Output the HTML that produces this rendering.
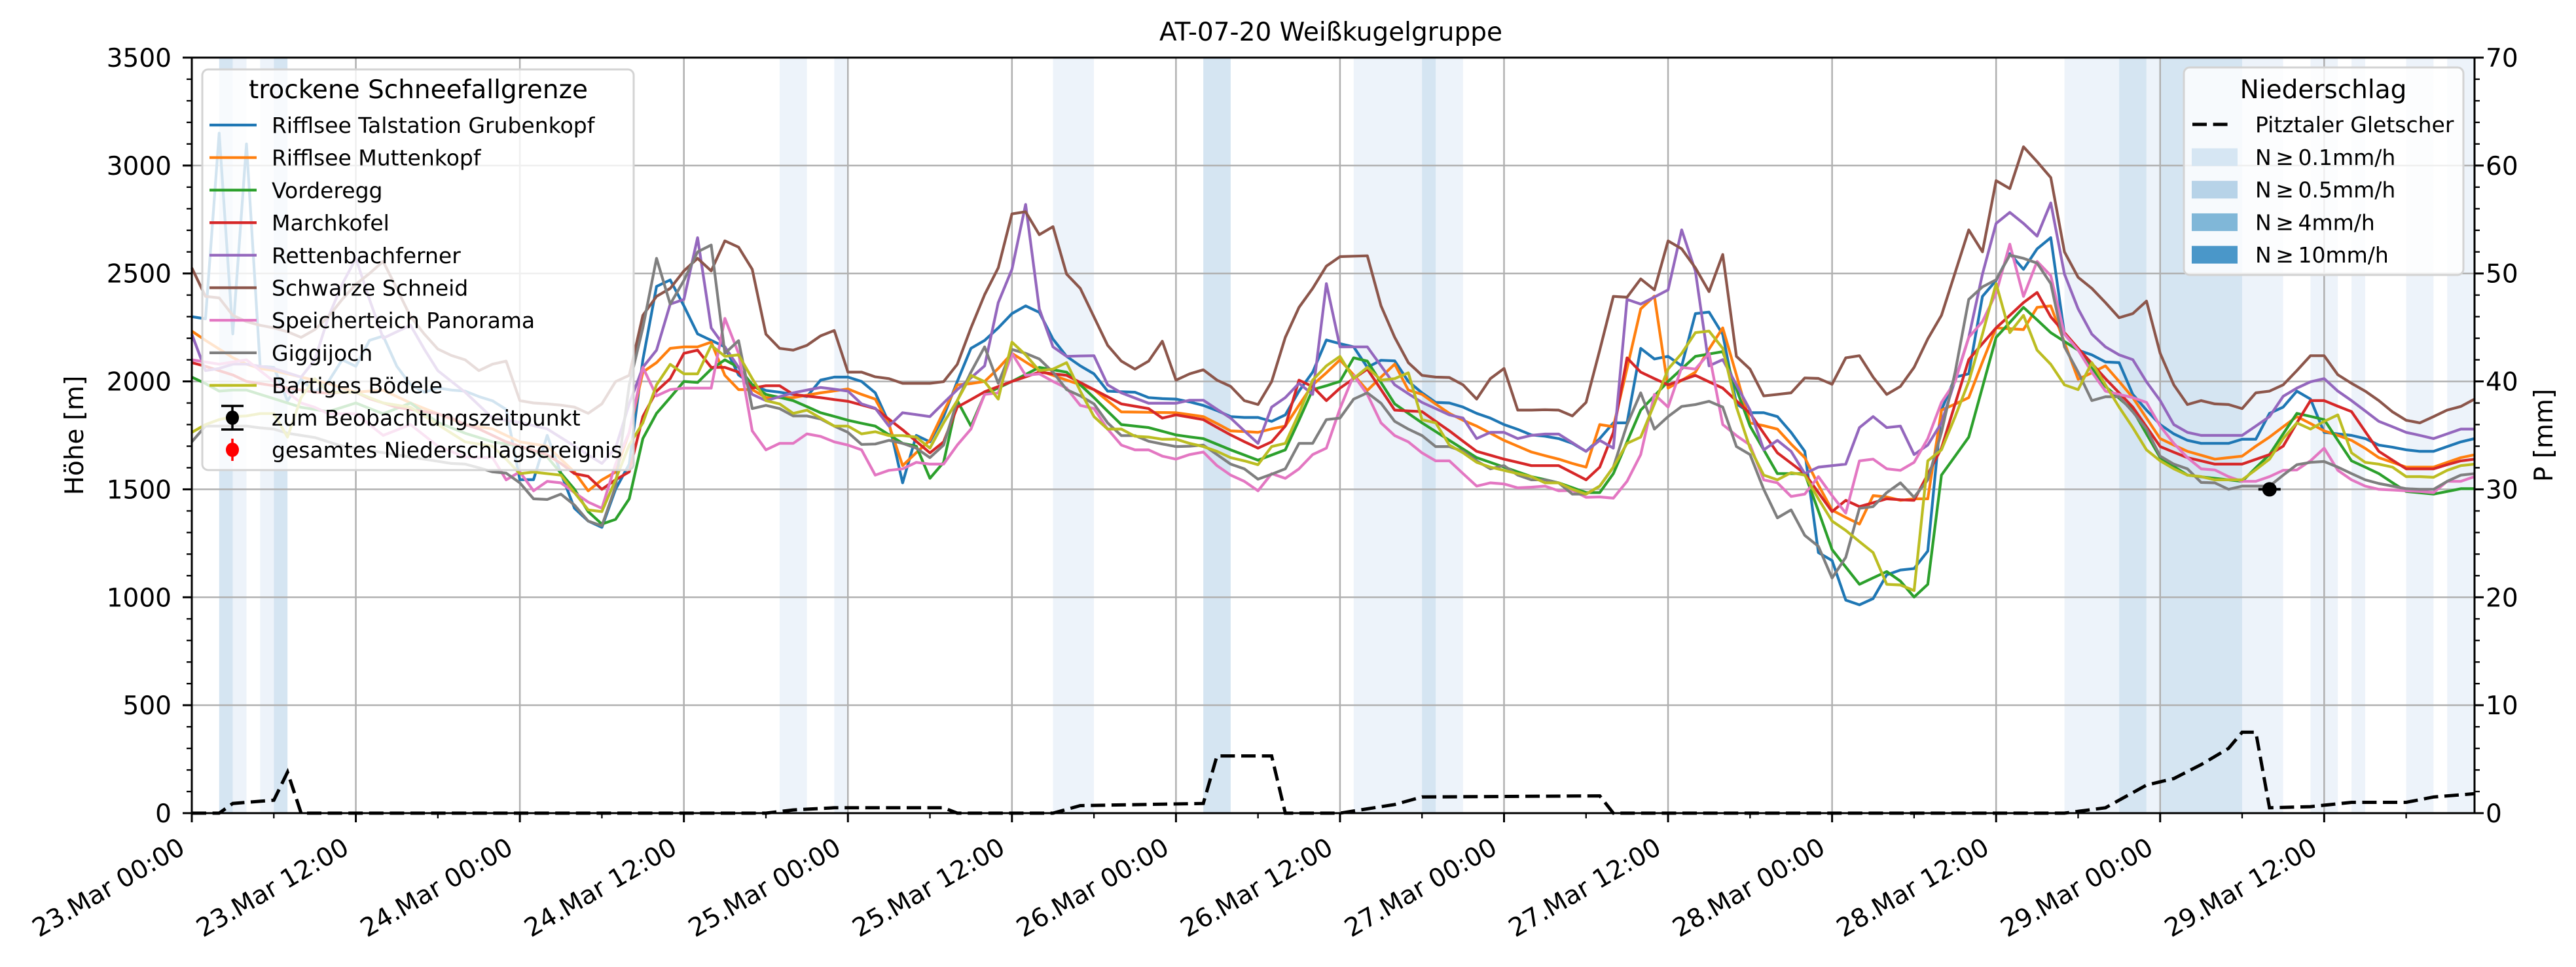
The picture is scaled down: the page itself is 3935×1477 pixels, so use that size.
<!DOCTYPE html>
<html><head><meta charset="utf-8"><title>AT-07-20 Weißkugelgruppe</title>
<style>
html,body{margin:0;padding:0;background:#fff;}
svg{display:block;font-family:"DejaVu Sans","Liberation Sans",sans-serif;}
</style></head>
<body>
<svg id="chart" xmlns="http://www.w3.org/2000/svg" width="3935" height="1477" viewBox="0 0 3935 1477">
<rect x="0" y="0" width="3935" height="1477" fill="#fff"/>
<g id="bands"></g>
<g id="grid"></g>
<g id="series"></g>
<g id="legendL"></g>
<g id="precip"></g>
<g id="axes"></g>
<g id="legendR"></g>
<text x="2033" y="62" font-size="39" text-anchor="middle">AT-07-20 Weißkugelgruppe</text>
<text transform="translate(127,665) rotate(-90)" font-size="39" text-anchor="middle">Höhe [m]</text>
<text transform="translate(3899,665) rotate(-90)" font-size="39" text-anchor="middle">P [mm]</text>
</svg>
<script>
// ---------- data ----------
const seriesNames = ["Rifflsee Talstation Grubenkopf","Rifflsee Muttenkopf","Vorderegg","Marchkofel","Rettenbachferner","Schwarze Schneid","Speicherteich Panorama","Giggijoch","Bartiges Bödele"];
const seriesColors = ["#1f77b4","#ff7f0e","#2ca02c","#d62728","#9467bd","#8c564b","#e377c2","#7f7f7f","#bcbd22"];
const grubenkopf = [2300,2290,3150,2220,3100,2070,2065,1910,2010,1950,2000,2100,
2070,2190,2210,2070,1985,1950,1970,1960,1955,1930,1910,1870,
1545,1545,1750,1575,1412,1353,1324,1500,1617,2100,2440,2470,
2350,2220,2190,2160,2030,1985,1958,1950,1940,1930,2006,2020,
2020,2000,1947,1808,1530,1750,1720,1837,2000,2153,2190,2248,
2314,2350,2320,2196,2116,2072,2035,1955,1952,1950,1925,1920,
1918,1905,1889,1865,1837,1833,1833,1815,1845,1955,2043,2192,
2175,2160,2065,2098,2095,2000,1947,1903,1900,1881,1852,1830,
1800,1778,1752,1746,1735,1713,1676,1735,1808,1808,2153,2104,
2116,2072,2314,2321,2218,1896,1855,1855,1837,1764,1676,1207,
1170,987,965,994,1104,1126,1133,1214,1867,2020,2035,2394,
2468,2592,2519,2614,2666,2219,2145,2123,2090,2087,1940,1867,
1800,1757,1727,1713,1713,1713,1732,1732,1852,1881,1955,1918,
1764,1757,1750,1735,1705,1695,1683,1676,1676,1698,1720,1735];
const muttenkopf = [2233,2190,2150,2110,2080,2060,2050,2035,2020,2005,1990,1970,
1950,1955,1960,1930,1900,1875,1850,1825,1800,1790,1780,1750,
1720,1710,1700,1640,1580,1493,1544,1580,1764,2043,2087,2153,
2160,2160,2182,2028,1962,1962,1925,1925,1925,1936,1947,1956,
1965,1940,1918,1800,1610,1670,1727,1860,1984,1990,2000,2060,
2130,2090,2050,2028,2006,1985,1962,1910,1859,1858,1857,1856,
1855,1846,1837,1805,1771,1768,1764,1780,1793,1890,1984,2040,
2100,2030,1958,2020,2080,1960,1940,1895,1852,1820,1793,1760,
1727,1700,1673,1656,1640,1620,1603,1800,1790,2060,2336,2395,
1969,2005,2043,2150,2248,2030,1808,1795,1779,1710,1647,1520,
1404,1370,1339,1471,1465,1449,1456,1456,1867,1895,1925,2090,
2248,2244,2240,2343,2350,2180,2010,2040,2072,2000,1925,1830,
1735,1705,1676,1658,1640,1647,1654,1700,1742,1790,1837,1805,
1771,1750,1727,1690,1647,1625,1603,1603,1603,1625,1647,1660];
const vorderegg = [2020,1990,1955,1960,1960,1940,1920,1900,1880,1870,1860,1880,
1900,1875,1850,1875,1900,1855,1810,1785,1760,1740,1720,1710,
1700,1675,1650,1575,1500,1397,1339,1361,1456,1735,1852,1925,
2000,1995,2057,2100,2065,1984,1940,1926,1911,1883,1855,1838,
1820,1806,1793,1753,1713,1700,1551,1625,1911,1793,1940,1970,
2000,2032,2065,2054,2043,1984,1925,1862,1800,1793,1786,1769,
1752,1743,1735,1709,1683,1659,1635,1659,1683,1820,1962,1980,
2000,2109,2094,1995,1896,1852,1808,1768,1727,1687,1647,1625,
1603,1581,1559,1545,1530,1508,1485,1485,1573,1720,1867,1933,
2000,2058,2116,2127,2138,1965,1793,1683,1573,1573,1573,1400,
1221,1140,1060,1090,1119,1075,1001,1060,1566,1654,1742,1973,
2204,2273,2343,2285,2226,2185,2145,2061,1977,1922,1867,1757,
1647,1606,1566,1558,1551,1544,1537,1600,1661,1757,1852,1838,
1823,1727,1632,1603,1573,1531,1490,1484,1478,1490,1503,1503];
const marchkofel = [2087,2070,2050,2030,2000,1990,1980,1970,1960,1950,1945,1950,
1950,1920,1900,1880,1870,1860,1850,1830,1800,1780,1750,1720,
1700,1680,1660,1620,1573,1560,1500,1544,1581,1837,1955,2013,
2130,2145,2065,2065,2043,1969,1980,1980,1940,1932,1925,1916,
1908,1891,1874,1825,1776,1722,1669,1720,1881,1916,1952,1976,
2000,2021,2043,2035,2028,1995,1962,1929,1896,1885,1874,1830,
1845,1834,1823,1787,1752,1721,1691,1720,1793,2006,1976,1911,
1969,2013,2057,1962,1867,1863,1860,1815,1771,1723,1676,1658,
1640,1625,1610,1610,1610,1577,1544,1603,1764,2109,2043,2013,
1984,2006,2028,1998,1969,1910,1852,1760,1669,1621,1573,1485,
1397,1449,1420,1438,1456,1452,1449,1570,1691,1896,2101,2175,
2248,2306,2365,2412,2299,2226,2153,2083,2013,1947,1881,1790,
1698,1672,1647,1632,1617,1617,1617,1639,1661,1700,1808,1911,
1911,1885,1860,1768,1676,1635,1595,1595,1595,1614,1632,1640];
const rettenbach = [2219,2050,2060,2080,2080,2070,2060,2040,2020,2100,2300,2450,
2570,2380,2200,2230,2260,2150,2050,2000,1950,1890,1830,1820,
1810,1795,1780,1740,1700,1660,1620,1691,1896,2065,2145,2358,
2380,2666,2248,2160,2065,1940,1911,1929,1947,1960,1972,1964,
1955,1896,1876,1793,1855,1846,1837,1900,1962,2017,2072,2365,
2519,2820,2336,2160,2116,2118,2119,1984,1947,1923,1899,1899,
1899,1913,1913,1871,1830,1771,1713,1881,1925,1991,1940,2453,
2160,2160,2160,2072,1984,1943,1903,1874,1845,1830,1735,1764,
1764,1735,1750,1756,1756,1716,1676,1727,1691,2380,2358,2391,
2424,2702,2511,2072,2101,1984,1867,1683,1727,1676,1573,1603,
1610,1617,1786,1837,1786,1793,1661,1705,1808,2006,2204,2497,
2732,2783,2732,2673,2827,2497,2336,2219,2160,2123,2101,1998,
1911,1800,1764,1750,1750,1750,1750,1793,1837,1931,1969,1998,
2013,1955,1911,1863,1815,1790,1764,1750,1735,1757,1779,1779];
const schwarzeSchneid = [2526,2394,2387,2306,2277,2260,2248,2230,2204,2240,2300,2380,
2450,2500,2556,2430,2300,2220,2150,2120,2100,2050,2080,2094,
1911,1900,1896,1890,1881,1852,1896,1999,2028,2306,2394,2431,
2512,2570,2512,2651,2622,2519,2219,2153,2145,2167,2211,2236,
2043,2043,2021,2013,1991,1991,1991,1999,2079,2248,2402,2526,
2776,2786,2680,2717,2497,2431,2299,2167,2094,2057,2094,2186,
2006,2035,2054,2006,1977,1911,1893,1999,2204,2343,2431,2534,
2578,2580,2582,2350,2204,2087,2028,2020,2018,1984,1918,2013,
2060,1867,1867,1869,1867,1840,1903,2145,2394,2390,2475,2424,
2651,2614,2526,2416,2588,2116,2057,1933,1940,1947,2016,2014,
1987,2109,2119,2020,1940,1977,2065,2197,2306,2504,2702,2600,
2930,2893,3087,3018,2944,2600,2482,2431,2365,2295,2314,2372,
2130,1984,1893,1911,1896,1893,1874,1947,1955,1984,2050,2119,
2119,2031,1991,1955,1911,1859,1820,1808,1837,1867,1884,1918];
const speicherteich = [2100,2090,2080,2090,2100,2050,2000,1950,1900,1880,1850,1850,
1850,1800,1750,1775,1800,1750,1700,1675,1650,1647,1647,1544,
1581,1493,1537,1530,1485,1441,1412,1617,1764,2065,1933,1962,
1969,1969,1969,2292,2130,1771,1683,1713,1713,1757,1745,1720,
1705,1683,1566,1588,1595,1625,1617,1617,1705,1779,1940,1947,
2130,2028,2035,2000,1969,1889,1874,1779,1705,1683,1683,1654,
1640,1661,1673,1610,1566,1537,1493,1573,1551,1595,1661,1691,
1874,2028,1940,1808,1749,1720,1669,1632,1632,1573,1515,1530,
1525,1507,1510,1515,1493,1495,1463,1465,1459,1537,1661,1940,
1881,2065,2057,2130,1800,1749,1705,1544,1530,1467,1478,1559,
1471,1390,1632,1640,1595,1588,1625,1735,1903,1999,2204,2277,
2409,2636,2394,2556,2490,2219,2145,2043,1955,1940,1925,1903,
1793,1713,1647,1595,1590,1559,1537,1537,1559,1588,1590,1632,
1691,1588,1544,1515,1500,1497,1493,1490,1485,1537,1537,1559];
const giggijoch = [1720,1793,1793,1793,1793,1785,1779,1760,1750,1740,1720,1700,
1690,1680,1670,1660,1650,1640,1630,1620,1617,1600,1581,1575,
1530,1456,1453,1478,1427,1353,1331,1513,1984,2248,2570,2358,
2468,2600,2632,2130,2189,1874,1889,1874,1840,1840,1826,1793,
1764,1708,1710,1727,1713,1691,1647,1705,1911,2043,2160,1991,
2148,2130,2104,2043,1962,1933,1896,1808,1749,1749,1723,1710,
1698,1700,1705,1661,1617,1595,1547,1570,1595,1713,1713,1823,
1830,1918,1947,1899,1815,1779,1749,1698,1698,1676,1632,1595,
1610,1566,1544,1544,1530,1478,1478,1515,1603,1800,1947,1779,
1837,1884,1893,1908,1881,1698,1661,1500,1368,1405,1287,1236,
1089,1185,1412,1420,1485,1530,1463,1544,1764,2043,2380,2438,
2471,2585,2570,2548,2453,2160,2043,1911,1929,1929,1859,1779,
1654,1617,1595,1532,1530,1500,1515,1515,1515,1566,1614,1625,
1629,1603,1573,1544,1527,1515,1503,1500,1500,1537,1566,1573];
const bartigesBoedele = [1764,1800,1823,1837,1840,1851,1851,1742,1925,2013,1950,1950,
1950,1925,1900,1890,1880,1840,1800,1760,1720,1710,1700,1640,
1573,1580,1573,1566,1485,1405,1397,1544,1705,1808,1984,2079,
2035,2035,2167,2116,2123,2013,1911,1896,1852,1867,1830,1793,
1793,1757,1767,1749,1749,1742,1691,1808,1911,2028,1999,1918,
2182,2123,2050,2057,2087,1955,1837,1779,1779,1746,1742,1732,
1732,1713,1698,1676,1647,1632,1614,1698,1713,1852,2006,2072,
2116,2013,2065,2006,2013,2040,1823,1808,1705,1669,1625,1603,
1588,1573,1559,1530,1530,1500,1478,1515,1603,1713,1742,1896,
2057,2130,2226,2233,2153,1881,1691,1566,1544,1577,1566,1456,
1353,1310,1258,1207,1060,1057,1031,1632,1683,1837,1999,2219,
2453,2226,2306,2145,2079,1984,1962,2087,1984,1881,1786,1683,
1632,1595,1566,1559,1544,1544,1544,1591,1640,1735,1808,1779,
1815,1845,1669,1625,1617,1603,1559,1559,1556,1588,1610,1617];
const allSeries = [grubenkopf,muttenkopf,vorderegg,marchkofel,rettenbach,schwarzeSchneid,speicherteich,giggijoch,bartigesBoedele];
// precipitation (Pitztaler Gletscher) in mm, at given hours since 23.Mar 00:00
const precipHours = [0,2,3,6,7,8,42,44,47,55,56,63,65,74,75,79,80,84,88,90,103,104,137,140,141,143,145,147,149,150,151,152,155,158,162,164,167];
const precipValues = [0,0,0.9,1.2,3.8,0,0,0.3,0.5,0.5,0,0,0.7,0.9,5.3,5.3,0,0,0.8,1.5,1.6,0,0,0.5,1.2,2.6,3.2,4.5,6.0,7.5,7.5,0.5,0.6,1.0,1.0,1.5,1.8];
// precipitation intensity bands (hours) 0 = N>=0.1, 1 = N>=0.5
const bandStart = [2,3,5,6,43,47,63,74,85,90,137,141,143,144,150,155,158,162,165];
const bandEnd   = [3,4,6,7,45,48,66,76,93,91,141,143,144,150,153,157,159,164,167];
const bandLevel = [1,0,0,1,0,0,0,1,0,1,0,1,0,1,0,0,0,0,0];
// observation point
const obsHour = [152];
const obsHeight = [1500];
// ticks
const xTickLabels = ["23.Mar 00:00","23.Mar 12:00","24.Mar 00:00","24.Mar 12:00","25.Mar 00:00","25.Mar 12:00","26.Mar 00:00","26.Mar 12:00","27.Mar 00:00","27.Mar 12:00","28.Mar 00:00","28.Mar 12:00","29.Mar 00:00","29.Mar 12:00"];
const yTicks = [0,500,1000,1500,2000,2500,3000,3500];
const y2Ticks = [0,10,20,30,40,50,60,70];

// ---------- layout ----------
const L=293,R=3780,T=88,B=1242;
const XMAX=167,YMAX=3500,PMAX=70;
const NS="http://www.w3.org/2000/svg";
function X(h){return L+(h/XMAX)*(R-L);}
function Y(v){return B-(v/YMAX)*(B-T);}
function YP(p){return B-(p/PMAX)*(B-T);}
function mk(tag,attrs,parent){const e=document.createElementNS(NS,tag);for(const k in attrs)e.setAttribute(k,attrs[k]);parent.appendChild(e);return e;}

const gB=document.getElementById('bands');
const bandColors=["#edf3fa","#d5e5f2"];
for(let i=0;i<bandStart.length;i++){
  const r=mk('rect',{x:X(bandStart[i]),y:T,width:X(bandEnd[i])-X(bandStart[i]),height:B-T,fill:bandColors[bandLevel[i]]},gB);
  
  
}
const gG=document.getElementById('grid');
for(let i=1;i<xTickLabels.length;i++){
  const l=mk('line',{x1:X(i*12),x2:X(i*12),y1:T,y2:B,stroke:"#b0b0b0","stroke-width":2.5},gG);
  
  
}
for(const v of yTicks){
  const l=mk('line',{x1:L,x2:R,y1:Y(v),y2:Y(v),stroke:"#b0b0b0","stroke-width":2.5},gG);
  
  
}
const gS=document.getElementById('series');
allSeries.forEach((vals,si)=>{
  const pts=vals.map((v,h)=>X(h).toFixed(1)+","+Y(v).toFixed(1)).join(" ");
  const p=mk('polyline',{points:pts,fill:"none",stroke:seriesColors[si],"stroke-width":4.2,"stroke-linejoin":"round"},gS);
  
  
});

// left legend
const gL=document.getElementById('legendL');
const lb=mk('rect',{x:309,y:106,width:659,height:612,rx:9,fill:"#fff","fill-opacity":0.8,stroke:"#d3d3d3","stroke-width":3},gL);


const lt=mk('text',{x:639,y:150,"font-size":39,"text-anchor":"middle"},gL);lt.textContent="trockene Schneefallgrenze";


seriesNames.forEach((n,i)=>{
  const cy=191+i*49.7;
  const ln=mk('line',{x1:320,x2:392,y1:cy,y2:cy,stroke:seriesColors[i],"stroke-width":4.2},gL);
  
  
  const t=mk('text',{x:415,y:cy+12,"font-size":33},gL);t.textContent=n;
  
  
});
{
  const cy=638;
  mk('line',{x1:355,x2:355,y1:620,y2:656,stroke:"#000","stroke-width":3.5},gL);
  mk('line',{x1:338,x2:372,y1:620,y2:620,stroke:"#000","stroke-width":3.5},gL);
  mk('line',{x1:338,x2:372,y1:656,y2:656,stroke:"#000","stroke-width":3.5},gL);
  mk('ellipse',{cx:355,cy:cy,rx:10,ry:11,fill:"#000"},gL);
  const t=mk('text',{x:415,y:cy+12,"font-size":33},gL);t.textContent="zum Beobachtungszeitpunkt";
  
  
  const cy2=687;
  mk('line',{x1:355,x2:355,y1:670,y2:704,stroke:"#ff0000","stroke-width":3.5},gL);
  mk('ellipse',{cx:355,cy:cy2,rx:10,ry:11,fill:"#ff0000"},gL);
  const t2=mk('text',{x:415,y:cy2+12,"font-size":33},gL);t2.textContent="gesamtes Niederschlagsereignis";
  
  
}

// precipitation dashed line + observation point
const gP=document.getElementById('precip');
const pp=mk('polyline',{points:precipHours.map((h,i)=>X(h).toFixed(1)+","+YP(precipValues[i]).toFixed(1)).join(" "),fill:"none",stroke:"#000","stroke-width":5,"stroke-dasharray":"22 9.6"},gP);


obsHour.forEach((h,i)=>{
  const e=mk('line',{x1:X(h)-17,x2:X(h)+17,y1:Y(obsHeight[i]),y2:Y(obsHeight[i]),stroke:"#000","stroke-width":4},gP);
  
  
  const c=mk('circle',{cx:X(h),cy:Y(obsHeight[i]),r:11,fill:"#000"},gP);
  
  
});

// axes
const gA=document.getElementById('axes');
const fr=mk('rect',{x:L,y:T,width:R-L,height:B-T,fill:"none",stroke:"#000","stroke-width":3},gA);


for(let v=0;v<=YMAX;v+=100){
  const major=v%500===0;
  mk('line',{x1:L,x2:L-(major?14:8),y1:Y(v),y2:Y(v),stroke:"#000","stroke-width":major?3:2.3},gA);
}
yTicks.forEach(v=>{
  const t=mk('text',{x:262,y:Y(v)+14,"font-size":39,"text-anchor":"end"},gA);t.textContent=String(v);
  
  
});
for(let p=0;p<=PMAX;p+=2){
  const major=p%10===0;
  mk('line',{x1:R,x2:R+(major?14:8),y1:YP(p),y2:YP(p),stroke:"#000","stroke-width":major?3:2.3},gA);
}
y2Ticks.forEach(p=>{
  const t=mk('text',{x:3797,y:YP(p)+14,"font-size":39},gA);t.textContent=String(p);
  
  
});
for(let h=0;h<=XMAX;h+=6){
  const major=h%12===0;
  mk('line',{x1:X(h),x2:X(h),y1:B,y2:B+(major?14:8),stroke:"#000","stroke-width":major?3:2.3},gA);
}
xTickLabels.forEach((lab,i)=>{
  const x=X(i*12)-8,y=1302;
  const t=mk('text',{transform:`translate(${x.toFixed(1)},${y}) rotate(-30)`,"font-size":39,"text-anchor":"end"},gA);t.textContent=lab;
  
  
});

// right legend
const gR=document.getElementById('legendR');
const rb=mk('rect',{x:3336,y:103,width:427,height:317,rx:9,fill:"#fff","fill-opacity":0.8,stroke:"#d3d3d3","stroke-width":3},gR);


const rt=mk('text',{x:3549,y:150,"font-size":39,"text-anchor":"middle"},gR);rt.textContent="Niederschlag";


mk('line',{x1:3349,x2:3406,y1:190,y2:190,stroke:"#000","stroke-width":5,"stroke-dasharray":"22 9.6"},gR);
const rt1=mk('text',{x:3445,y:202,"font-size":33},gR);rt1.textContent="Pitztaler Gletscher";


const swColors=["#d6e6f3","#b7d3e8","#80b7d8","#4a97c9"];
const swLabels=["N\u2009≥\u20090.1mm/h","N\u2009≥\u20090.5mm/h","N\u2009≥\u20094mm/h","N\u2009≥\u200910mm/h"];
swLabels.forEach((lab,i)=>{
  const cy=240+i*49.7;
  const s=mk('rect',{x:3348,y:cy-13.5,width:70,height:27,fill:swColors[i]},gR);
  
  
  const t=mk('text',{x:3445,y:cy+12,"font-size":33},gR);t.textContent=lab;
  
  
});
</script>
</body></html>
